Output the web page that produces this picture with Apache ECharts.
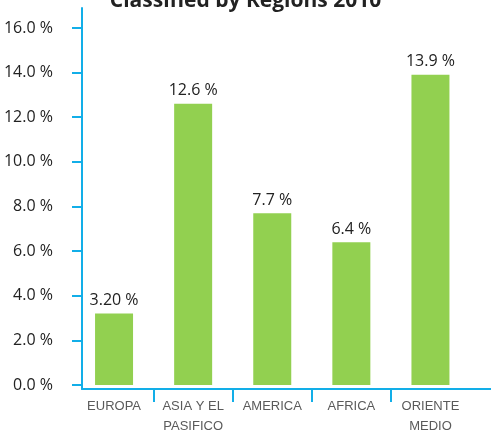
<!DOCTYPE html>
<html>
<head>
<meta charset="utf-8">
<script src="https://cdn.jsdelivr.net/npm/echarts@6/dist/echarts.min.js"></script>
<style>
  html, body { margin: 0; padding: 0; background: #ffffff; }
  #chart { width: 491px; height: 431px; }
</style>
</head>
<body>
<div id="chart"></div>
<script>
// Share by region, 2010
const regions = ['EUROPA', 'ASIA Y EL\nPASIFICO', 'AMERICA', 'AFRICA', 'ORIENTE\nMEDIO'];
const shares = [3.20, 12.6, 7.7, 6.4, 13.9];
const shareDecimals = [2, 1, 1, 1, 1];
const yTicks = [0, 2, 4, 6, 8, 10, 12, 14, 16];
// separators between neighbouring regions (band index positions)
const regionSeparators = [1, 2, 3, 4];

const blue = '#12aee8';
const chart = echarts.init(document.getElementById('chart'), null, { renderer: 'canvas' });

chart.setOption({
  animation: false,
  title: {
    text: 'Classified by Regions 2010',
    left: 'center',
    top: -14,
    textStyle: { fontFamily: 'Open Sans', fontWeight: 'bold', fontSize: 21, color: '#222222' }
  },
  grid: [
    { left: 74.5, right: 21, top: 28 - 0.9 * 357 / 16, bottom: 46, containLabel: false, outerBoundsMode: 'none' },
    { left: 82, right: 0, top: 8, bottom: 42, containLabel: false, outerBoundsMode: 'none' }
  ],
  xAxis: [
    {
      type: 'category',
      gridIndex: 0,
      position: 'bottom',
      data: regions,
      offset: 4,
      axisLine: { show: false },
      axisTick: { show: false },
      axisLabel: {
        margin: 7,
        interval: 0,
        fontFamily: 'Liberation Sans Narrow, Arial Narrow, sans-serif',
        fontSize: 13,
        lineHeight: 20,
        color: '#5a5a5a'
      }
    },
    {
      type: 'value',
      gridIndex: 1,
      position: 'bottom',
      min: 0,
      max: 1,
      axisLine: { show: true, onZero: false, lineStyle: { color: blue, width: 2 } },
      axisTick: { show: false },
      axisLabel: { show: false },
      splitLine: { show: false }
    },
    {
      type: 'value',
      gridIndex: 0,
      position: 'bottom',
      min: 0,
      max: regions.length,
      offset: 4,
      axisLine: { show: false, onZero: false },
      axisTick: {
        show: true,
        length: 13,
        customValues: regionSeparators,
        lineStyle: { color: blue, width: 2 }
      },
      axisLabel: { show: false },
      splitLine: { show: false }
    }
  ],
  yAxis: [
    {
      type: 'value',
      gridIndex: 0,
      min: 0,
      max: 16.9,
      offset: -7.5,
      axisLine: { show: false },
      axisTick: {
        show: true,
        length: 10,
        customValues: yTicks,
        lineStyle: { color: blue, width: 2 }
      },
      axisLabel: {
        margin: 29,
        customValues: yTicks,
        formatter: (v) => v.toFixed(1) + ' %',
        fontFamily: 'Open Sans',
        fontSize: 16,
        color: '#222222'
      },
      splitLine: { show: false }
    },
    {
      type: 'value',
      gridIndex: 1,
      min: 0,
      max: 1,
      axisLine: { show: true, onZero: false, lineStyle: { color: blue, width: 2 } },
      axisTick: { show: false },
      axisLabel: { show: false },
      splitLine: { show: false }
    }
  ],
  series: [
    {
      type: 'bar',
      xAxisIndex: 0,
      yAxisIndex: 0,
      data: shares,
      barWidth: 38,
      itemStyle: { color: '#92d050' },
      label: {
        show: true,
        position: 'top',
        distance: 5,
        formatter: (p) => p.value.toFixed(shareDecimals[p.dataIndex]) + ' %',
        fontFamily: 'Open Sans',
        fontSize: 16,
        color: '#222222'
      }
    }
  ]
});
</script>
</body>
</html>
